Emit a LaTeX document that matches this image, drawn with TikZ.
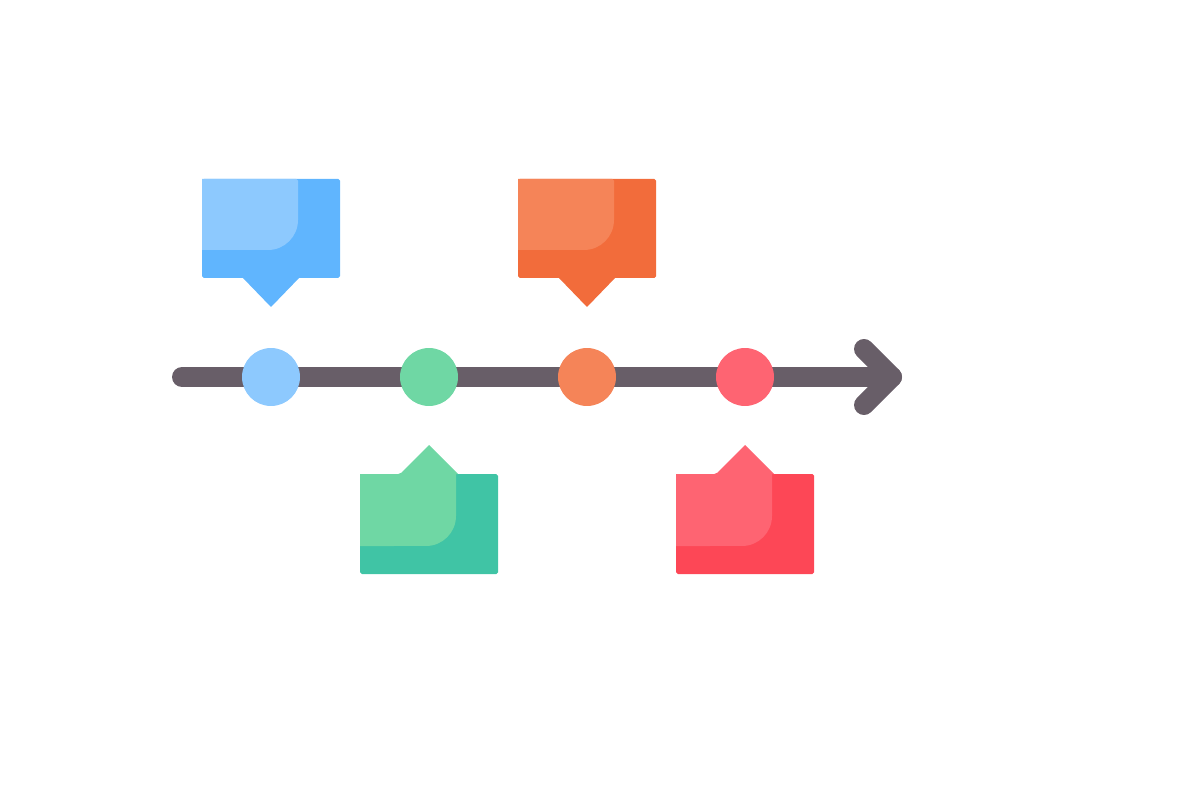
\documentclass[tikz,border=0pt]{standalone}
\usetikzlibrary{positioning}

\definecolor{gris}{HTML}{685E68}
\definecolor{bleuclair}{HTML}{8DC9FE}
\definecolor{bleu}{HTML}{60B5FE}
\definecolor{vertclair}{HTML}{6FD7A4}
\definecolor{vert}{HTML}{40C4A5}
\definecolor{orangeclair}{HTML}{F58458}
\definecolor{orange}{HTML}{F26C3B}
\definecolor{rougeclair}{HTML}{FE6472}
\definecolor{rouge}{HTML}{FD4756}

\begin{document}
\begin{tikzpicture}[x=0.02cm, y=-0.02cm]
	\tikzset{point/.style={circle, inner sep=0, minimum size=1.16cm}, axe/.style={draw=gris, line width=0.4cm, line cap=round, line join=round}};

	\useasboundingbox (0,0) rectangle (1186,790);

	\coordinate (debut) at (182,377);
	\coordinate (fin)   at (892,377);
	\coordinate (haut)  at (864,349);
	\coordinate (bas)   at (864,405);

	\draw[axe] (debut) -- (fin);
	\draw[axe] (haut) -- (fin) -- (bas);

	\node[point, fill=bleuclair]   (p1) at (271,377) {};
	\node[point, fill=vertclair]   (p2) at (429,377) {};
	\node[point, fill=orangeclair] (p3) at (587,377) {};
	\node[point, fill=rougeclair]  (p4) at (745,377) {};

	% bulles du haut
	\begin{scope}[shift={(p1)}]
		\fill[bleu, rounded corners=1pt] (-69,-198) rectangle (69,-99);
		\fill[bleu] (-29,-100) -- (0,-70) -- (29,-100) -- cycle;
		\fill[bleuclair, rounded corners=1pt] (-69,-198) -- (27,-198) [sharp corners] -- (27,-157) arc[start angle=0, end angle=-90, radius=0.6cm] -- (-69,-127) -- cycle;
	\end{scope}
	\begin{scope}[shift={(p3)}]
		\fill[orange, rounded corners=1pt] (-69,-198) rectangle (69,-99);
		\fill[orange] (-29,-100) -- (0,-70) -- (29,-100) -- cycle;
		\fill[orangeclair, rounded corners=1pt] (-69,-198) -- (27,-198) [sharp corners] -- (27,-157) arc[start angle=0, end angle=-90, radius=0.6cm] -- (-69,-127) -- cycle;
	\end{scope}

	% bulles du bas
	\begin{scope}[shift={(p2)}]
		\fill[vert, rounded corners=1pt] (-69,97) rectangle (69,197);
		\fill[vertclair, rounded corners=1pt] (-69,97) -- (-29,97) [sharp corners] -- (0,68) -- (29,97) -- (27,97) -- (27,139) arc[start angle=0, end angle=-90, radius=0.6cm] -- (-69,169) -- cycle;
	\end{scope}
	\begin{scope}[shift={(p4)}]
		\fill[rouge, rounded corners=1pt] (-69,97) rectangle (69,197);
		\fill[rougeclair, rounded corners=1pt] (-69,97) -- (-29,97) [sharp corners] -- (0,68) -- (29,97) -- (27,97) -- (27,139) arc[start angle=0, end angle=-90, radius=0.6cm] -- (-69,169) -- cycle;
	\end{scope}
\end{tikzpicture}
\end{document}
